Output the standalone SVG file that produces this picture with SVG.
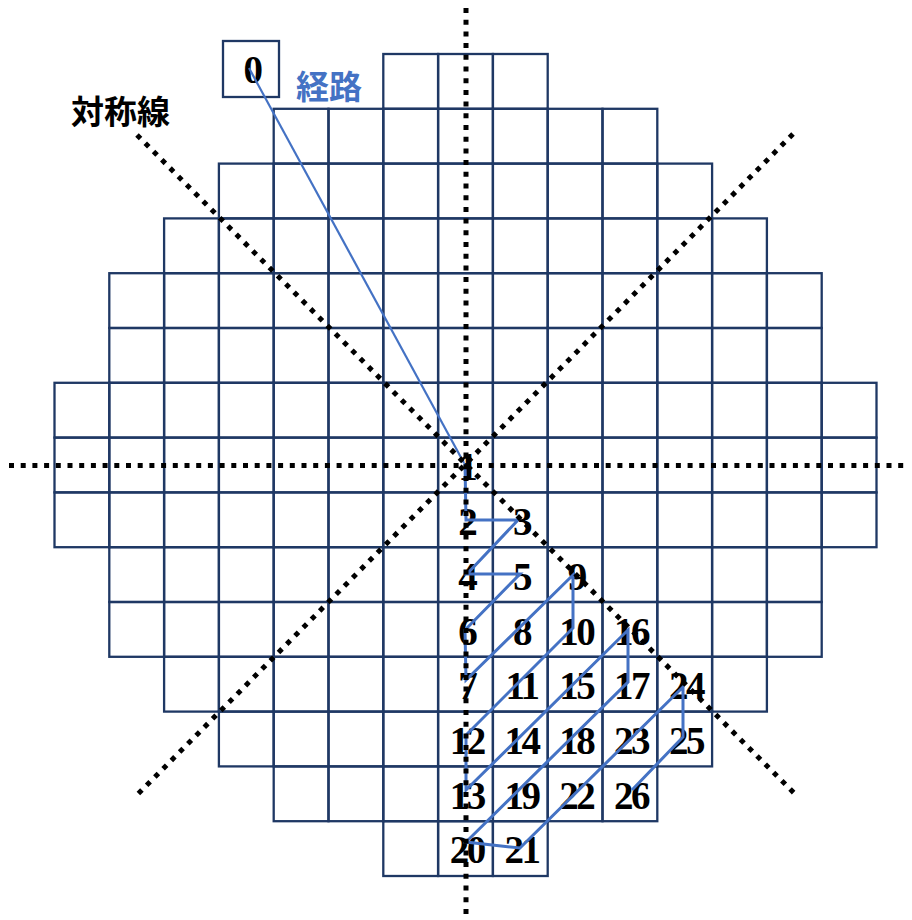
<svg xmlns="http://www.w3.org/2000/svg" xmlns:xlink="http://www.w3.org/1999/xlink" width="912" height="920" viewBox="0 0 912 920">
<style>
.cell{fill:none;stroke:#1F3864;stroke-width:2.3}
.num{font-family:"Liberation Serif","Times New Roman",serif;font-weight:bold;font-size:39px;letter-spacing:-2.5px;text-anchor:middle;fill:#000}
.route{fill:none;stroke:#4472C4;stroke-linejoin:miter;stroke-linecap:butt}
.sym{stroke:#000;stroke-width:5;stroke-dasharray:5 6.7;fill:none}
.lbl{font-family:"Noto Sans CJK JP","Noto Sans CJK SC",sans-serif;font-weight:bold;font-size:33px}
</style>
<defs>
<rect id="c" width="54.8" height="54.8" class="cell"/>
</defs>
<rect width="912" height="920" fill="#fff"/>
<g id="grid">
<g transform="translate(0,54)"><use href="#c" x="383.3"/><use href="#c" x="438.1"/><use href="#c" x="492.9"/></g>
<g transform="translate(0,108.8)"><use href="#c" x="273.7"/><use href="#c" x="328.5"/><use href="#c" x="383.3"/><use href="#c" x="438.1"/><use href="#c" x="492.9"/><use href="#c" x="547.7"/><use href="#c" x="602.5"/></g>
<g transform="translate(0,163.6)"><use href="#c" x="218.9"/><use href="#c" x="273.7"/><use href="#c" x="328.5"/><use href="#c" x="383.3"/><use href="#c" x="438.1"/><use href="#c" x="492.9"/><use href="#c" x="547.7"/><use href="#c" x="602.5"/><use href="#c" x="657.3"/></g>
<g transform="translate(0,218.4)"><use href="#c" x="164.1"/><use href="#c" x="218.9"/><use href="#c" x="273.7"/><use href="#c" x="328.5"/><use href="#c" x="383.3"/><use href="#c" x="438.1"/><use href="#c" x="492.9"/><use href="#c" x="547.7"/><use href="#c" x="602.5"/><use href="#c" x="657.3"/><use href="#c" x="712.1"/></g>
<g transform="translate(0,273.2)"><use href="#c" x="109.3"/><use href="#c" x="164.1"/><use href="#c" x="218.9"/><use href="#c" x="273.7"/><use href="#c" x="328.5"/><use href="#c" x="383.3"/><use href="#c" x="438.1"/><use href="#c" x="492.9"/><use href="#c" x="547.7"/><use href="#c" x="602.5"/><use href="#c" x="657.3"/><use href="#c" x="712.1"/><use href="#c" x="766.9"/></g>
<g transform="translate(0,328)"><use href="#c" x="109.3"/><use href="#c" x="164.1"/><use href="#c" x="218.9"/><use href="#c" x="273.7"/><use href="#c" x="328.5"/><use href="#c" x="383.3"/><use href="#c" x="438.1"/><use href="#c" x="492.9"/><use href="#c" x="547.7"/><use href="#c" x="602.5"/><use href="#c" x="657.3"/><use href="#c" x="712.1"/><use href="#c" x="766.9"/></g>
<g transform="translate(0,382.8)"><use href="#c" x="54.5"/><use href="#c" x="109.3"/><use href="#c" x="164.1"/><use href="#c" x="218.9"/><use href="#c" x="273.7"/><use href="#c" x="328.5"/><use href="#c" x="383.3"/><use href="#c" x="438.1"/><use href="#c" x="492.9"/><use href="#c" x="547.7"/><use href="#c" x="602.5"/><use href="#c" x="657.3"/><use href="#c" x="712.1"/><use href="#c" x="766.9"/><use href="#c" x="821.7"/></g>
<g transform="translate(0,437.6)"><use href="#c" x="54.5"/><use href="#c" x="109.3"/><use href="#c" x="164.1"/><use href="#c" x="218.9"/><use href="#c" x="273.7"/><use href="#c" x="328.5"/><use href="#c" x="383.3"/><use href="#c" x="438.1"/><use href="#c" x="492.9"/><use href="#c" x="547.7"/><use href="#c" x="602.5"/><use href="#c" x="657.3"/><use href="#c" x="712.1"/><use href="#c" x="766.9"/><use href="#c" x="821.7"/></g>
<g transform="translate(0,492.4)"><use href="#c" x="54.5"/><use href="#c" x="109.3"/><use href="#c" x="164.1"/><use href="#c" x="218.9"/><use href="#c" x="273.7"/><use href="#c" x="328.5"/><use href="#c" x="383.3"/><use href="#c" x="438.1"/><use href="#c" x="492.9"/><use href="#c" x="547.7"/><use href="#c" x="602.5"/><use href="#c" x="657.3"/><use href="#c" x="712.1"/><use href="#c" x="766.9"/><use href="#c" x="821.7"/></g>
<g transform="translate(0,547.2)"><use href="#c" x="109.3"/><use href="#c" x="164.1"/><use href="#c" x="218.9"/><use href="#c" x="273.7"/><use href="#c" x="328.5"/><use href="#c" x="383.3"/><use href="#c" x="438.1"/><use href="#c" x="492.9"/><use href="#c" x="547.7"/><use href="#c" x="602.5"/><use href="#c" x="657.3"/><use href="#c" x="712.1"/><use href="#c" x="766.9"/></g>
<g transform="translate(0,602)"><use href="#c" x="109.3"/><use href="#c" x="164.1"/><use href="#c" x="218.9"/><use href="#c" x="273.7"/><use href="#c" x="328.5"/><use href="#c" x="383.3"/><use href="#c" x="438.1"/><use href="#c" x="492.9"/><use href="#c" x="547.7"/><use href="#c" x="602.5"/><use href="#c" x="657.3"/><use href="#c" x="712.1"/><use href="#c" x="766.9"/></g>
<g transform="translate(0,656.8)"><use href="#c" x="164.1"/><use href="#c" x="218.9"/><use href="#c" x="273.7"/><use href="#c" x="328.5"/><use href="#c" x="383.3"/><use href="#c" x="438.1"/><use href="#c" x="492.9"/><use href="#c" x="547.7"/><use href="#c" x="602.5"/><use href="#c" x="657.3"/><use href="#c" x="712.1"/></g>
<g transform="translate(0,711.6)"><use href="#c" x="218.9"/><use href="#c" x="273.7"/><use href="#c" x="328.5"/><use href="#c" x="383.3"/><use href="#c" x="438.1"/><use href="#c" x="492.9"/><use href="#c" x="547.7"/><use href="#c" x="602.5"/><use href="#c" x="657.3"/></g>
<g transform="translate(0,766.4)"><use href="#c" x="273.7"/><use href="#c" x="328.5"/><use href="#c" x="383.3"/><use href="#c" x="438.1"/><use href="#c" x="492.9"/><use href="#c" x="547.7"/><use href="#c" x="602.5"/></g>
<g transform="translate(0,821.2)"><use href="#c" x="383.3"/><use href="#c" x="438.1"/><use href="#c" x="492.9"/></g>
</g>
<g id="n0"><rect x="223" y="41" width="56" height="56" class="cell"/><text class="num" x="252" y="83">0</text></g>
<g id="n1"><text class="num" x="466.7" y="480">1</text></g>
<g id="n2"><text class="num" x="466.7" y="535">2</text></g>
<g id="n3"><text class="num" x="521.5" y="535">3</text></g>
<g id="n4"><text class="num" x="466.7" y="590">4</text></g>
<g id="n5"><text class="num" x="521.5" y="590">5</text></g>
<g id="n9"><text class="num" x="576.3" y="590">9</text></g>
<g id="n6"><text class="num" x="466.7" y="645">6</text></g>
<g id="n8"><text class="num" x="521.5" y="645">8</text></g>
<g id="n10"><text class="num" x="576.3" y="645">10</text></g>
<g id="n16"><text class="num" x="631.1" y="645">16</text></g>
<g id="n7"><text class="num" x="466.7" y="699">7</text></g>
<g id="n11"><text class="num" x="521.5" y="699">11</text></g>
<g id="n15"><text class="num" x="576.3" y="699">15</text></g>
<g id="n17"><text class="num" x="631.1" y="699">17</text></g>
<g id="n24"><text class="num" x="685.9" y="699">24</text></g>
<g id="n12"><text class="num" x="466.7" y="754">12</text></g>
<g id="n14"><text class="num" x="521.5" y="754">14</text></g>
<g id="n18"><text class="num" x="576.3" y="754">18</text></g>
<g id="n23"><text class="num" x="631.1" y="754">23</text></g>
<g id="n25"><text class="num" x="685.9" y="754">25</text></g>
<g id="n13"><text class="num" x="466.7" y="809">13</text></g>
<g id="n19"><text class="num" x="521.5" y="809">19</text></g>
<g id="n22"><text class="num" x="576.3" y="809">22</text></g>
<g id="n26"><text class="num" x="631.1" y="809">26</text></g>
<g id="n20"><text class="num" x="466.7" y="863">20</text></g>
<g id="n21"><text class="num" x="521.5" y="863">21</text></g>
<g id="connectors">
<path class="route" stroke-width="2.2" d="M249,68 L464,463"/>
<path class="route" stroke-width="3" d="M465,463 L466,520 L518,520 L467,574 L520,574 L465,630 L466,680 L573,575 L573,628 L466,735 L466,790 L628,630 L628,682 L466,842 L520,848 L683,687 L683,737 L632,790"/>
</g>
<g id="symmetry-lines">
<line class="sym" x1="466" y1="8" x2="466" y2="917"/>
<line class="sym" x1="9" y1="465.5" x2="908" y2="465.5"/>
<line class="sym" x1="137" y1="135" x2="796" y2="795"/>
<line class="sym" x1="793" y1="134" x2="137" y2="795"/>
</g>
<text class="lbl" x="71" y="124" fill="#000">対称線</text>
<text class="lbl" x="296" y="99" fill="#4472C4">経路</text>
</svg>
